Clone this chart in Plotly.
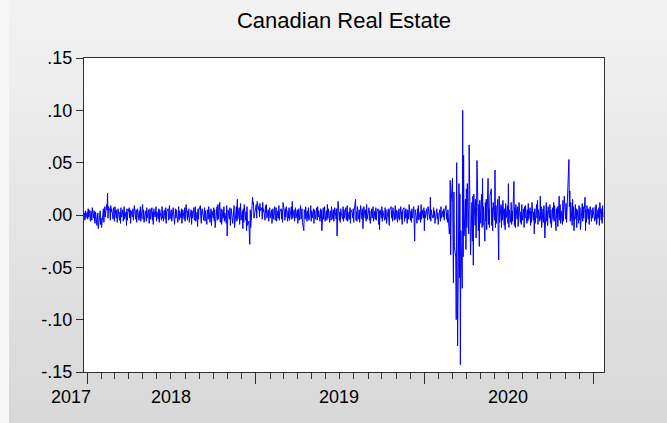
import pandas as pd
import plotly.graph_objects as go

# Daily returns of the Canadian real estate index, in thousandths
r2017 = [2, -5, 4, -3]

r2018 = [
    3, -4, 6, -2, 5, -6, 4, 2, -5, 7, -3, 4, -6, -8, 3, -10, -4, 2, -13, -6,
    4, -9, -3, -12, -5, 6, -7, 3, 8, -2, 10, 5, 21, -3, 8, 4, -5, 9, 3, 6,
    -4, 7, 2, -6, 8, -3, 5, -7, 4, 6, -5, 3, -8, 7, -2, 5, -6, 4, 8, -4,
    3, -10, 6, -5, 2, 7, -3, 5, -8, 4, -2, 6, -5, 3, 9, -4, 5, -7, 2, 6,
    -5, 4, -3, 8, -6, 3, 10, -4, 5, -7, 4, 2, -6, 7, -3, 5, -8, 3, 6, -4,
    7, -5, 3, -9, 6, -2, 4, 8, -6, 3, -4, 6, -7, 5, 2, -5, 8, -3, 4, -6,
    5, -4, 7, -8, 3, 6, -5, 2, 9, -4, 5, -6, 3, -2, 7, -9, 4, 6, -3, 5,
    -7, 3, 8, -5, 4, -3, 6, -8, 2, 5, -4, 7, -6, 3, 10, -5, 4, -2, 6, -7,
    3, 5, -9, 4, -3, 7, -5, 2, 8, -6, 3, -11, 6, -4, 5, 9, -3, -8, 4, 6,
    -5, 3, 7, -6, 4, -9, 5, 2, -4, 8, -7, 3, 6, -10, 4, -3, 7, -6, 5, -12,
    3, 8, -5, 10, -4, 12, -7, 4, 6, -9, 5, -3, 8, -6, 2, -8, 9, -20, -6, 5,
    -4, 7, -10, 3, 6, -8, 4, -3, 9, -12, 5, 8, -6, 15, -4, 7, -9, 3, 11, -5,
    4, -13, 6, -7, 10, -5, 3, -15, 8, -10, -6, -18, -28, 5, -12, 9, 17, 10, 12, -3, 8,
]

r2019 = [
    6, 10, -3, 13, 5, 8, -2, 11, 4, 7, -4, 12, 3, 6, -5, 9, 2, 10, -3, 5,
    -6, 4, 7, -3, 5, -8, 3, 6, -4, 8, -5, 2, 7, -6, 4, -3, 9, -5, 3, 6,
    -4, 5, -7, 12, 3, -5, 6, -2, 8, -6, 4, -3, 7, -5, 2, 8, -4, 13, -3, 5,
    -6, 4, 7, -3, 5, -8, 3, 6, -5, 9, -4, 2, 6, -7, -15, 5, 3, -4, 8, -6,
    4, -3, 7, -5, 2, 9, -6, 4, -3, 6, -8, 5, 3, -4, 7, -5, 8, -2, 4, -6,
    6, -3, 5, -15, 7, -4, 3, 8, -6, 4, -5, 10, -3, 6, -7, 4, 2, -5, 8, -4,
    5, -6, 3, 7, -4, 6, -20, 4, 13, -5, 3, -7, 6, 2, -4, 8, -6, 5, -3, 7,
    -5, 4, 9, -6, 3, -4, 7, -8, 5, 2, -3, 6, -7, 4, 15, -5, 3, -6, 8, -4,
    5, -7, 3, 9, -4, 6, -13, 4, 8, -3, 5, -6, 10, -4, 3, 7, -5, 4, -8, 6,
    -3, 5, 8, -6, 4, -4, 7, -5, 3, 6, -9, 4, -14, 5, -3, 8, -6, 4, 2, -5,
    7, -4, 5, -8, 3, 6, -4, -10, 5, 8, -3, 4, -6, 7, -5, 3, 9, -4, 5, -7,
    4, -3, 6, -5, 8, -4, 3, -9, 5, 7, -6, 4, -3, 6, -8, 5, 2, -4, 10, -5,
    4, -7, 6, -3, 8, -6, -25, 5, 3, -8, 6, -4, 9, -5, 3, -7, 10, -4, 5, -3, 7,
]

r2020 = [
    -15, 4, -3, 6, 2, -5, 8, 3, -4, 17, -6, 5, 1, -3, 7, -2, 4, -8, 3, 6,
    -4, 2, -9, 5, 3, -6, 8, -3, 4, -2, 6, -5, 3, 9, -4, 2, -7, 5, -18, -12,
    33, -38, 12, 35, -25, -65, 22, -30, -40, -100, 50, -45, -125, 30, -60, 20, -143, -15, -70, 100,
    -40, 57, -20, 15, -33, 25, -12, 30, -18, 67, -8, 37, -38, 12, -25, 18, -48, 20, -10, 15,
    -22, 8, 52, -15, 10, -30, 14, -8, 20, -12, 35, -10, 8, -25, 12, -6, 15, -14, 35, -9,
    6, -12, 18, 25, -10, 7, -15, 12, -5, 43, -12, 9, -8, 15, -20, -43, 18, -7, 10, -12,
    8, -5, 14, -10, 6, -14, 11, -3, 9, -8, 30, -12, 5, -7, 12, -9, 4, -6, 32, -10,
    7, -12, 10, -4, 8, -11, 5, 12, -7, 3, -9, 10, -5, 6, -12, 8, -3, 9, -8, 5,
    -6, 11, -4, 7, -10, 4, -7, 12, -5, 3, -18, 6, -8, 10, -3, 14, -9, 5, -6, 18,
    -4, 8, -12, 6, -7, 9, -5, -22, 12, -6, 4, -10, 8, -3, 10, -8, 5, -12, 7, -4,
    12, -6, 9, -15, 6, -3, 8, -11, 18, -5, 10, -8, 4, -9, 14, -6, 7, 18, -4, 11,
    -7, 9, 20, 53, 8, 23, -6, 12, -10, 15, -5, 8, -15, 10, -4, 6, -12, 5, -8, 9,
    -5, 7, -14, 4, 11, -6, 8, -3, 17, -15, 5, -7, 9, -4, 6, -9, 3, 8, -6, 5, -3, 7,
]

r2021 = [3, -6, 8, -4, 10, -9, 5, -3, 7, -10, 12, -5, 6, -8, 9, -2]

returns = [v / 1000 for v in r2017 + r2018 + r2019 + r2020 + r2021]
dates = pd.bdate_range("2017-12-26", periods=len(returns))

year_ticks = ["2018-01-01", "2019-01-01", "2020-01-01", "2021-01-01"]
year_labels = ["2018", "2019", "2020"]
year_label_dates = ["2018-07-02", "2019-07-01", "2020-07-01"]
first_label = "2017"
ytick_vals = [-0.15, -0.10, -0.05, 0.0, 0.05, 0.10, 0.15]
ytick_text = ["-.15", "-.10", "-.05", ".00", ".05", ".10", ".15"]

W, H = 667, 423
L, R, T, B = 84, 63, 58, 51
pw, ph = W - L - R, H - T - B
FONT = "Liberation Sans, Arial, sans-serif"


def px_x(p):
    return (p - L) / pw


def px_y(p):
    return (H - B - p) / ph


fig = go.Figure()
fig.add_trace(go.Scatter(
    x=dates, y=returns, mode="lines",
    line=dict(color="rgb(0,0,255)", width=1),
    hoverinfo="skip", showlegend=False,
))

# window background: soft vertical gradient
shapes = []
nb = 30
for k in range(nb):
    t = k / (nb - 1)
    c = int(round(242 - 26 * t))
    y0 = k * H / nb
    y1 = (k + 1) * H / nb + 1
    shapes.append(dict(type="rect", xref="paper", yref="paper",
                       x0=px_x(0), x1=px_x(W), y0=px_y(y1), y1=px_y(y0),
                       fillcolor=f"rgb({c},{c},{c})", line=dict(width=0),
                       layer="below"))
shapes.append(dict(type="rect", xref="paper", yref="paper",
                   x0=px_x(0), x1=px_x(9), y0=px_y(H), y1=px_y(0),
                   fillcolor="rgb(246,246,246)", line=dict(width=0), layer="below"))
# white plotting panel
shapes.append(dict(type="rect", xref="paper", yref="paper", x0=0, x1=1, y0=0, y1=1,
                   fillcolor="white", line=dict(width=0), layer="below"))

annotations = [dict(text=first_label, xref="paper", yref="paper",
                    x=px_x(71), y=0, yshift=-25, showarrow=False,
                    xanchor="center", yanchor="middle",
                    font=dict(family=FONT, size=18, color="black"))]
for lab, d in zip(year_labels, year_label_dates):
    annotations.append(dict(text=lab, xref="x", yref="paper", x=d, y=0, yshift=-25,
                            showarrow=False, xanchor="center", yanchor="middle",
                            font=dict(family=FONT, size=18, color="black")))

fig.update_layout(
    width=W, height=H,
    margin=dict(l=L, r=R, t=T, b=B, pad=0),
    paper_bgcolor="rgb(236,236,236)",
    plot_bgcolor="white",
    shapes=shapes,
    annotations=annotations,
    title=dict(text="Canadian Real Estate", x=0.5, xref="paper", xanchor="center",
               y=1 - 20 / H, yref="container", yanchor="middle",
               font=dict(family=FONT, size=22, color="black")),
    font=dict(family=FONT, color="black"),
)

fig.update_xaxes(
    type="date", range=["2017-12-25", "2021-01-24"],
    tickmode="array", tickvals=year_ticks, showticklabels=False,
    ticks="outside", ticklen=11, tickwidth=1, tickcolor="#303030",
    minor=dict(dtick="M1", tick0="2018-01-01", ticks="outside", ticklen=6,
               tickwidth=1, tickcolor="#303030", showgrid=False),
    showgrid=False, zeroline=False,
    showline=True, linecolor="#303030", linewidth=1, mirror=True,
)
fig.update_yaxes(
    range=[-0.15, 0.15], tickmode="array", tickvals=ytick_vals, ticktext=ytick_text,
    ticks="outside", ticklen=7, tickwidth=1, tickcolor="#303030",
    tickfont=dict(family=FONT, size=18, color="black"),
    showgrid=False, zeroline=False,
    showline=True, linecolor="#303030", linewidth=1, mirror=True,
)

fig.write_html("out.html")
